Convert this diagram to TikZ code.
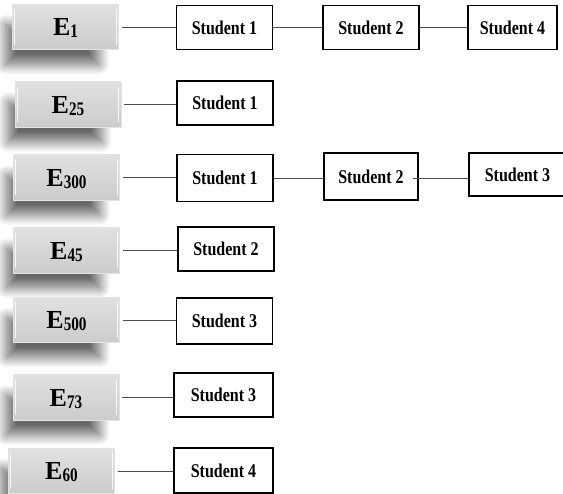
\documentclass[tikz,border=0pt]{standalone}
\usepackage{fontspec}
\setmainfont{Liberation Serif}
\usetikzlibrary{shadows.blur}
\newcommand\stx[1]{\scalebox{0.97}[1.18]{#1}}
\newcommand\elab[1]{E\raisebox{-2pt}{\scalebox{0.95}[1.2]{\fontsize{16}{16}\selectfont #1}}}
\tikzset{
  ebox/.style={rectangle, minimum width=106pt, minimum height=45pt, inner sep=0pt,
    text height=17.5pt, text depth=0pt,
    draw=gray!22, top color=gray!24, bottom color=gray!40,
    blur shadow={shadow xshift=-15pt, shadow yshift=-20pt, shadow scale=0.88,
      shadow blur radius=12pt, shadow blur steps=20, shadow opacity=60},
    font=\fontsize{26}{26}\bfseries},
  sbox/.style={rectangle, draw=black, line width=1.3pt, fill=white,
    minimum width=96pt, minimum height=44pt, inner sep=0pt,
    text height=15pt, text depth=1.5pt,
    font=\fontsize{16.5}{16.5}\bfseries},
  link/.style={draw=gray!60!black, line width=0.9pt},
  elink/.style={link, shorten <=3pt}
}
\begin{document}
\begin{tikzpicture}[x=1pt,y=-1pt]
\useasboundingbox (0,0) rectangle (563,494);
% E boxes
\node[ebox] (e1)   at (65.5,27)   {\elab{1}};
\node[ebox] (e25)  at (68,104.5)  {\elab{25}};
\node[ebox] (e300) at (66.5,177.5){\elab{300}};
\node[ebox] (e45)  at (66.5,250.5){\elab{45}};
\node[ebox] (e500) at (66.5,320)  {\elab{500}};
\node[ebox] (e73)  at (66,397.5)  {\elab{73}};
\node[ebox] (e60)  at (61.5,471)  {\elab{60}};
% bevel highlights
\foreach \n in {e1,e25,e300,e45,e500,e73,e60}{
  \draw[white, line width=0.8pt, opacity=0.85] ([xshift=2.5pt,yshift=-5pt]\n.north west) -- ([xshift=2.5pt,yshift=5pt]\n.south west);
  \draw[white, line width=0.8pt, opacity=0.85] ([xshift=-2.5pt,yshift=-5pt]\n.north east) -- ([xshift=-2.5pt,yshift=5pt]\n.south east);
}
% Student boxes
\node[sbox] (a1) at (224.5,27.5) {\stx{Student 1}};
\node[sbox] (a2) at (371,27.5)   {\stx{Student 2}};
\node[sbox, minimum width=89pt] (a4) at (512.5,27.5) {\stx{Student 4}};

\node[sbox] (b1) at (225,103) {\stx{Student 1}};

\node[sbox, minimum height=47pt] (c1) at (225,178) {\stx{Student 1}};
\node[sbox, minimum width=94pt, minimum height=47pt] (c2) at (371,176.5) {\stx{Student 2}};
\node[sbox, minimum width=97pt, minimum height=43pt] (c3) at (517.5,174.5) {\stx{Student 3}};

\node[sbox] (d2) at (226,249) {\stx{Student 2}};
\node[sbox, minimum height=46pt] (f3) at (224.5,321) {\stx{Student 3}};
\node[sbox, minimum width=99pt] (g3) at (223.5,395) {\stx{Student 3}};
\node[sbox, minimum width=99pt, minimum height=45pt] (h4) at (223.5,470.5) {\stx{Student 4}};

% connectors
\draw[elink] (e1.east) -- (e1.east -| a1.west);
\draw[link] (a1.east) -- (a1.east -| a2.west);
\draw[link] (a2.east) -- (a2.east -| a4.west);
\draw[elink] (e25.east) -- (e25.east -| b1.west);
\draw[elink] (e300.east) -- (e300.east -| c1.west);
\draw[link] (c1.east) -- (c1.east -| c2.west);
\draw[link] ([xshift=-6pt,yshift=-2pt]c2.east) -- ([yshift=-2pt]c2.east -| c3.west);
\draw[elink] (e45.east) -- (e45.east -| d2.west);
\draw[elink] (e500.east) -- (e500.east -| f3.west);
\draw[elink] (e73.east) -- (e73.east -| g3.west);
\draw[elink] (e60.east) -- (e60.east -| h4.west);
\end{tikzpicture}
\end{document}
